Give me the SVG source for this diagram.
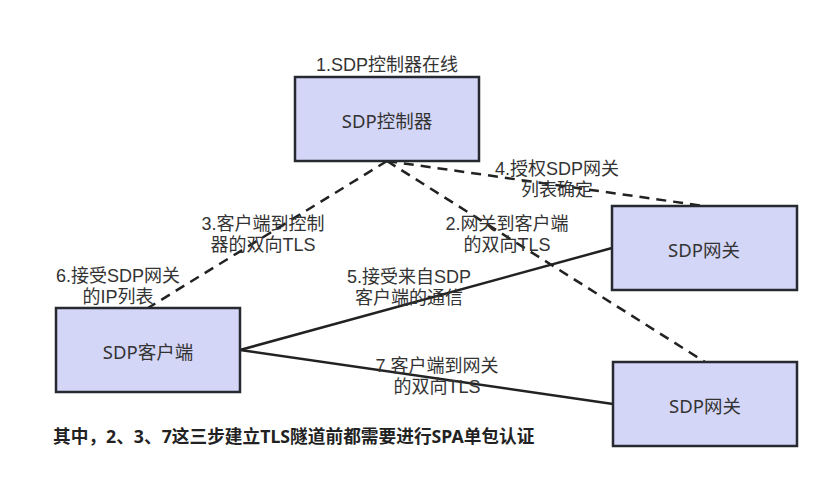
<svg xmlns="http://www.w3.org/2000/svg" width="830" height="498" viewBox="0 0 830 498">
  <style>
    .node rect { fill: #d4d6f7; stroke: #262a30; stroke-width: 2.5; }
    text { font-family: "Noto Sans", "Noto Sans CJK SC", sans-serif; fill: #333333; dominant-baseline: central; }
    .nl { font-size: 18.5px; text-anchor: middle; }
    .el { font-family: "Liberation Sans", "Noto Sans CJK SC", sans-serif; font-size: 18px; text-anchor: middle; }
    .dash { fill: none; stroke: #222222; stroke-width: 2.5; stroke-dasharray: 10 7; }
    .solid { fill: none; stroke: #222222; stroke-width: 2.5; }
    .note { font-size: 17.7px; font-weight: bold; fill: #222222; }
  </style>
  <rect width="830" height="498" fill="#ffffff"/>

  <!-- connectors -->
  <g id="connectors">
    <path class="dash" d="M387 161 L148 308"/>
    <path class="dash" d="M387 161 L704 206"/>
    <path class="dash" d="M387 161 L705 362"/>
    <path class="solid" d="M240 350 L612 248"/>
    <path class="solid" d="M240 350 L613 404"/>
  </g>

  <!-- nodes -->
  <g id="controller" class="node">
    <rect x="295" y="77" width="184" height="84"/>
    <text class="nl" x="387" y="120">SDP控制器</text>
  </g>
  <g id="gateway1" class="node">
    <rect x="612" y="206" width="185" height="84"/>
    <text class="nl" x="704" y="249">SDP网关</text>
  </g>
  <g id="gateway2" class="node">
    <rect x="613" y="362" width="184" height="84"/>
    <text class="nl" x="705" y="405">SDP网关</text>
  </g>
  <g id="client" class="node">
    <rect x="56" y="308" width="184" height="84"/>
    <text class="nl" x="148" y="351">SDP客户端</text>
  </g>

  <!-- step labels (two-line labels use tspans) -->
  <g id="labels">
    <text class="el" x="387" y="65">1.SDP控制器在线</text>
    <text class="el" x="507" y="224">2.网关到客户端<tspan x="507" dy="21">的双向TLS</tspan></text>
    <text class="el" x="263" y="224">3.客户端到控制<tspan x="263" dy="21">器的双向TLS</tspan></text>
    <text class="el" x="557" y="169">4.授权SDP网关<tspan x="557" dy="21">列表确定</tspan></text>
    <text class="el" x="409" y="277">5.接受来自SDP<tspan x="409" dy="21">客户端的通信</tspan></text>
    <text class="el" x="118" y="276">6.接受SDP网关<tspan x="118" dy="21">的IP列表</tspan></text>
    <text class="el" x="437" y="366">7.客户端到网关<tspan x="437" dy="21">的双向TLS</tspan></text>
  </g>

  <text class="note" x="53" y="436">其中，2、3、7这三步建立TLS隧道前都需要进行SPA单包认证</text>
</svg>
